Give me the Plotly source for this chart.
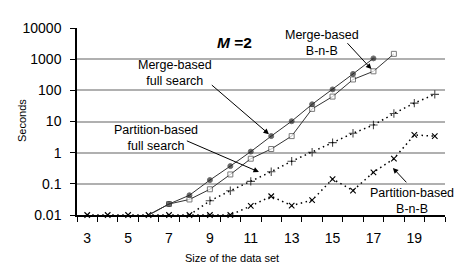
import math
import plotly.graph_objects as go

# ---- data ----
sizes = list(range(3, 21))
merge_full = [None, None, None, 0.01, 0.0225, 0.043, 0.132, 0.37, 1.08, 3.4, 10.2, 35.6, 107, 336, 1060, None, None, None]
merge_bnb = [None, None, None, 0.01, 0.0225, 0.0315, 0.067, 0.2, 0.64, 1.31, 3.4, 25.4, 63, 223, 408, 1480, None, None]
part_full = [None, None, None, None, None, 0.01, 0.0285, 0.06, 0.12, 0.245, 0.53, 1.03, 2.1, 4.2, 7.7, 18, 39, 74]
part_bnb = [0.01, 0.01, 0.01, 0.01, 0.01, 0.01, 0.01, 0.01, 0.0195, 0.04, 0.02, 0.03, 0.142, 0.061, 0.235, 0.64, 3.7, 3.4]
x_ticks = [3, 5, 7, 9, 11, 13, 15, 17, 19]
y_ticks = [0.01, 0.1, 1, 10, 100, 1000, 10000]
y_labels = ["0.01", "0.1", "1", "10", "100", "1000", "10000"]

FONT = "Arial, Liberation Sans, sans-serif"
# page body has an 8px default margin; size the figure to fit the 476x269 window
OFF = 8
W, H = 476 - OFF, 269 - OFF
PL, PR, PT, PB = 77, 445, 23, 215  # plot area in page pixels
L, R, T, B = PL - OFF, 476 - PR, PT - OFF, 269 - PB


def px(x, y):
    """page pixel -> paper coords"""
    return (x - PL) / (PR - PL), (PB - y) / (PB - PT)


def msize(vals, s):
    return [0 if (v is not None and v <= 0.01) else s for v in vals]


fig = go.Figure()

fig.add_trace(go.Scatter(
    x=sizes, y=part_full, mode="lines+markers",
    line=dict(color="black", width=1.5, dash="1.5px,3.5px"),
    marker=dict(symbol="cross-thin", size=msize(part_full, 6), line=dict(color="black", width=1.1)),
    cliponaxis=False, showlegend=False))

fig.add_trace(go.Scatter(
    x=sizes, y=part_bnb, mode="lines+markers",
    line=dict(color="black", width=1.5, dash="1.5px,3.5px"),
    marker=dict(symbol="x-thin", size=5.5, line=dict(color="black", width=1.1)),
    cliponaxis=False, showlegend=False))

fig.add_trace(go.Scatter(
    x=sizes, y=merge_bnb, mode="lines+markers",
    line=dict(color="#333333", width=1),
    marker=dict(symbol="square", size=msize(merge_bnb, 5), color="white",
                line=dict(color="#444444", width=1)),
    cliponaxis=False, showlegend=False))

fig.add_trace(go.Scatter(
    x=sizes, y=merge_full, mode="lines+markers",
    line=dict(color="#333333", width=1),
    marker=dict(symbol="circle", size=msize(merge_full, 5), color="#222222"),
    cliponaxis=False, showlegend=False))

annotations = []
for text, (cx, cy) in [
    ("Merge-based<br>B-n-B", (321.5, 38)),
    ("Merge-based<br>full search", (175, 69.5)),
    ("Partition-based<br>full search", (155.5, 136)),
    ("Partition-based<br>B-n-B", (411.8, 201)),
]:
    ax_, ay_ = px(cx, cy)
    annotations.append(dict(text=text, x=ax_, y=ay_, xref="paper", yref="paper",
                            showarrow=False, xanchor="center", yanchor="middle",
                            font=dict(family=FONT, size=12.5, color="black")))

mx, my = px(234.5, 37.5)
annotations.append(dict(text="<b><i>M</i> =2</b>", x=mx, y=my, xref="paper", yref="paper",
                        showarrow=False, xanchor="center", yanchor="middle",
                        font=dict(family=FONT, size=15.5, color="black")))


def arrow(hx, hy, tx, ty, standoff=1):
    return dict(x=hx, y=hy, ax=tx, ay=ty, xref="x", yref="y", axref="x", ayref="y",
                text="", showarrow=True, arrowhead=2, arrowsize=1.1, arrowwidth=1,
                arrowcolor="black", standoff=standoff)


annotations.append(arrow(17, math.log10(merge_bnb[sizes.index(17)]), 15.66, 3.56, 3))
annotations.append(arrow(12, math.log10(merge_full[sizes.index(12)]), 9.02, 2.21, 3))
annotations.append(arrow(11.4, -0.62, 7.8, 0.40, 0))
annotations.append(arrow(17.95, -0.49, 18.68, -1.0, 0))

sx, sy = px(21.5, 118)
annotations.append(dict(text="Seconds", x=sx, y=sy, xref="paper", yref="paper", textangle=-90,
                        showarrow=False, xanchor="center", yanchor="middle",
                        font=dict(family=FONT, size=11, color="black")))
tx_, ty_ = px(232, 259.5)
annotations.append(dict(text="Size of the data set", x=tx_, y=ty_, xref="paper", yref="paper",
                        showarrow=False, xanchor="center", yanchor="middle",
                        font=dict(family=FONT, size=11, color="black")))

fig.update_layout(
    width=W, height=H, margin=dict(l=L, r=R, t=T, b=B, pad=0),
    paper_bgcolor="white", plot_bgcolor="white",
    annotations=annotations, showlegend=False,
    font=dict(family=FONT, color="black"),
)

fig.update_xaxes(
    range=[2.5, 20.5], tickvals=x_ticks, ticktext=[str(v) for v in x_ticks],
    ticks="outside", ticklen=5, tickcolor="rgba(0,0,0,0)", ticklabelstandoff=4,
    tickfont=dict(family=FONT, size=14, color="black"),
    showgrid=False, zeroline=False,
    showline=True, linecolor="black", linewidth=1.5,
    minor=dict(ticks="outside", ticklen=5, tick0=2.5, dtick=1, tickcolor="black", tickwidth=1.2, showgrid=False),
)

fig.update_yaxes(
    type="log", range=[-2, 4], tickvals=y_ticks, ticktext=y_labels,
    ticks="outside", ticklen=5, tickcolor="black", tickwidth=1.2, ticklabelstandoff=6,
    tickfont=dict(family=FONT, size=14, color="black"),
    showgrid=True, gridcolor="#b0b0b0", gridwidth=1.5,
    zeroline=False, showline=True, linecolor="black", linewidth=1.5,
)

fig.write_html("out.html")
